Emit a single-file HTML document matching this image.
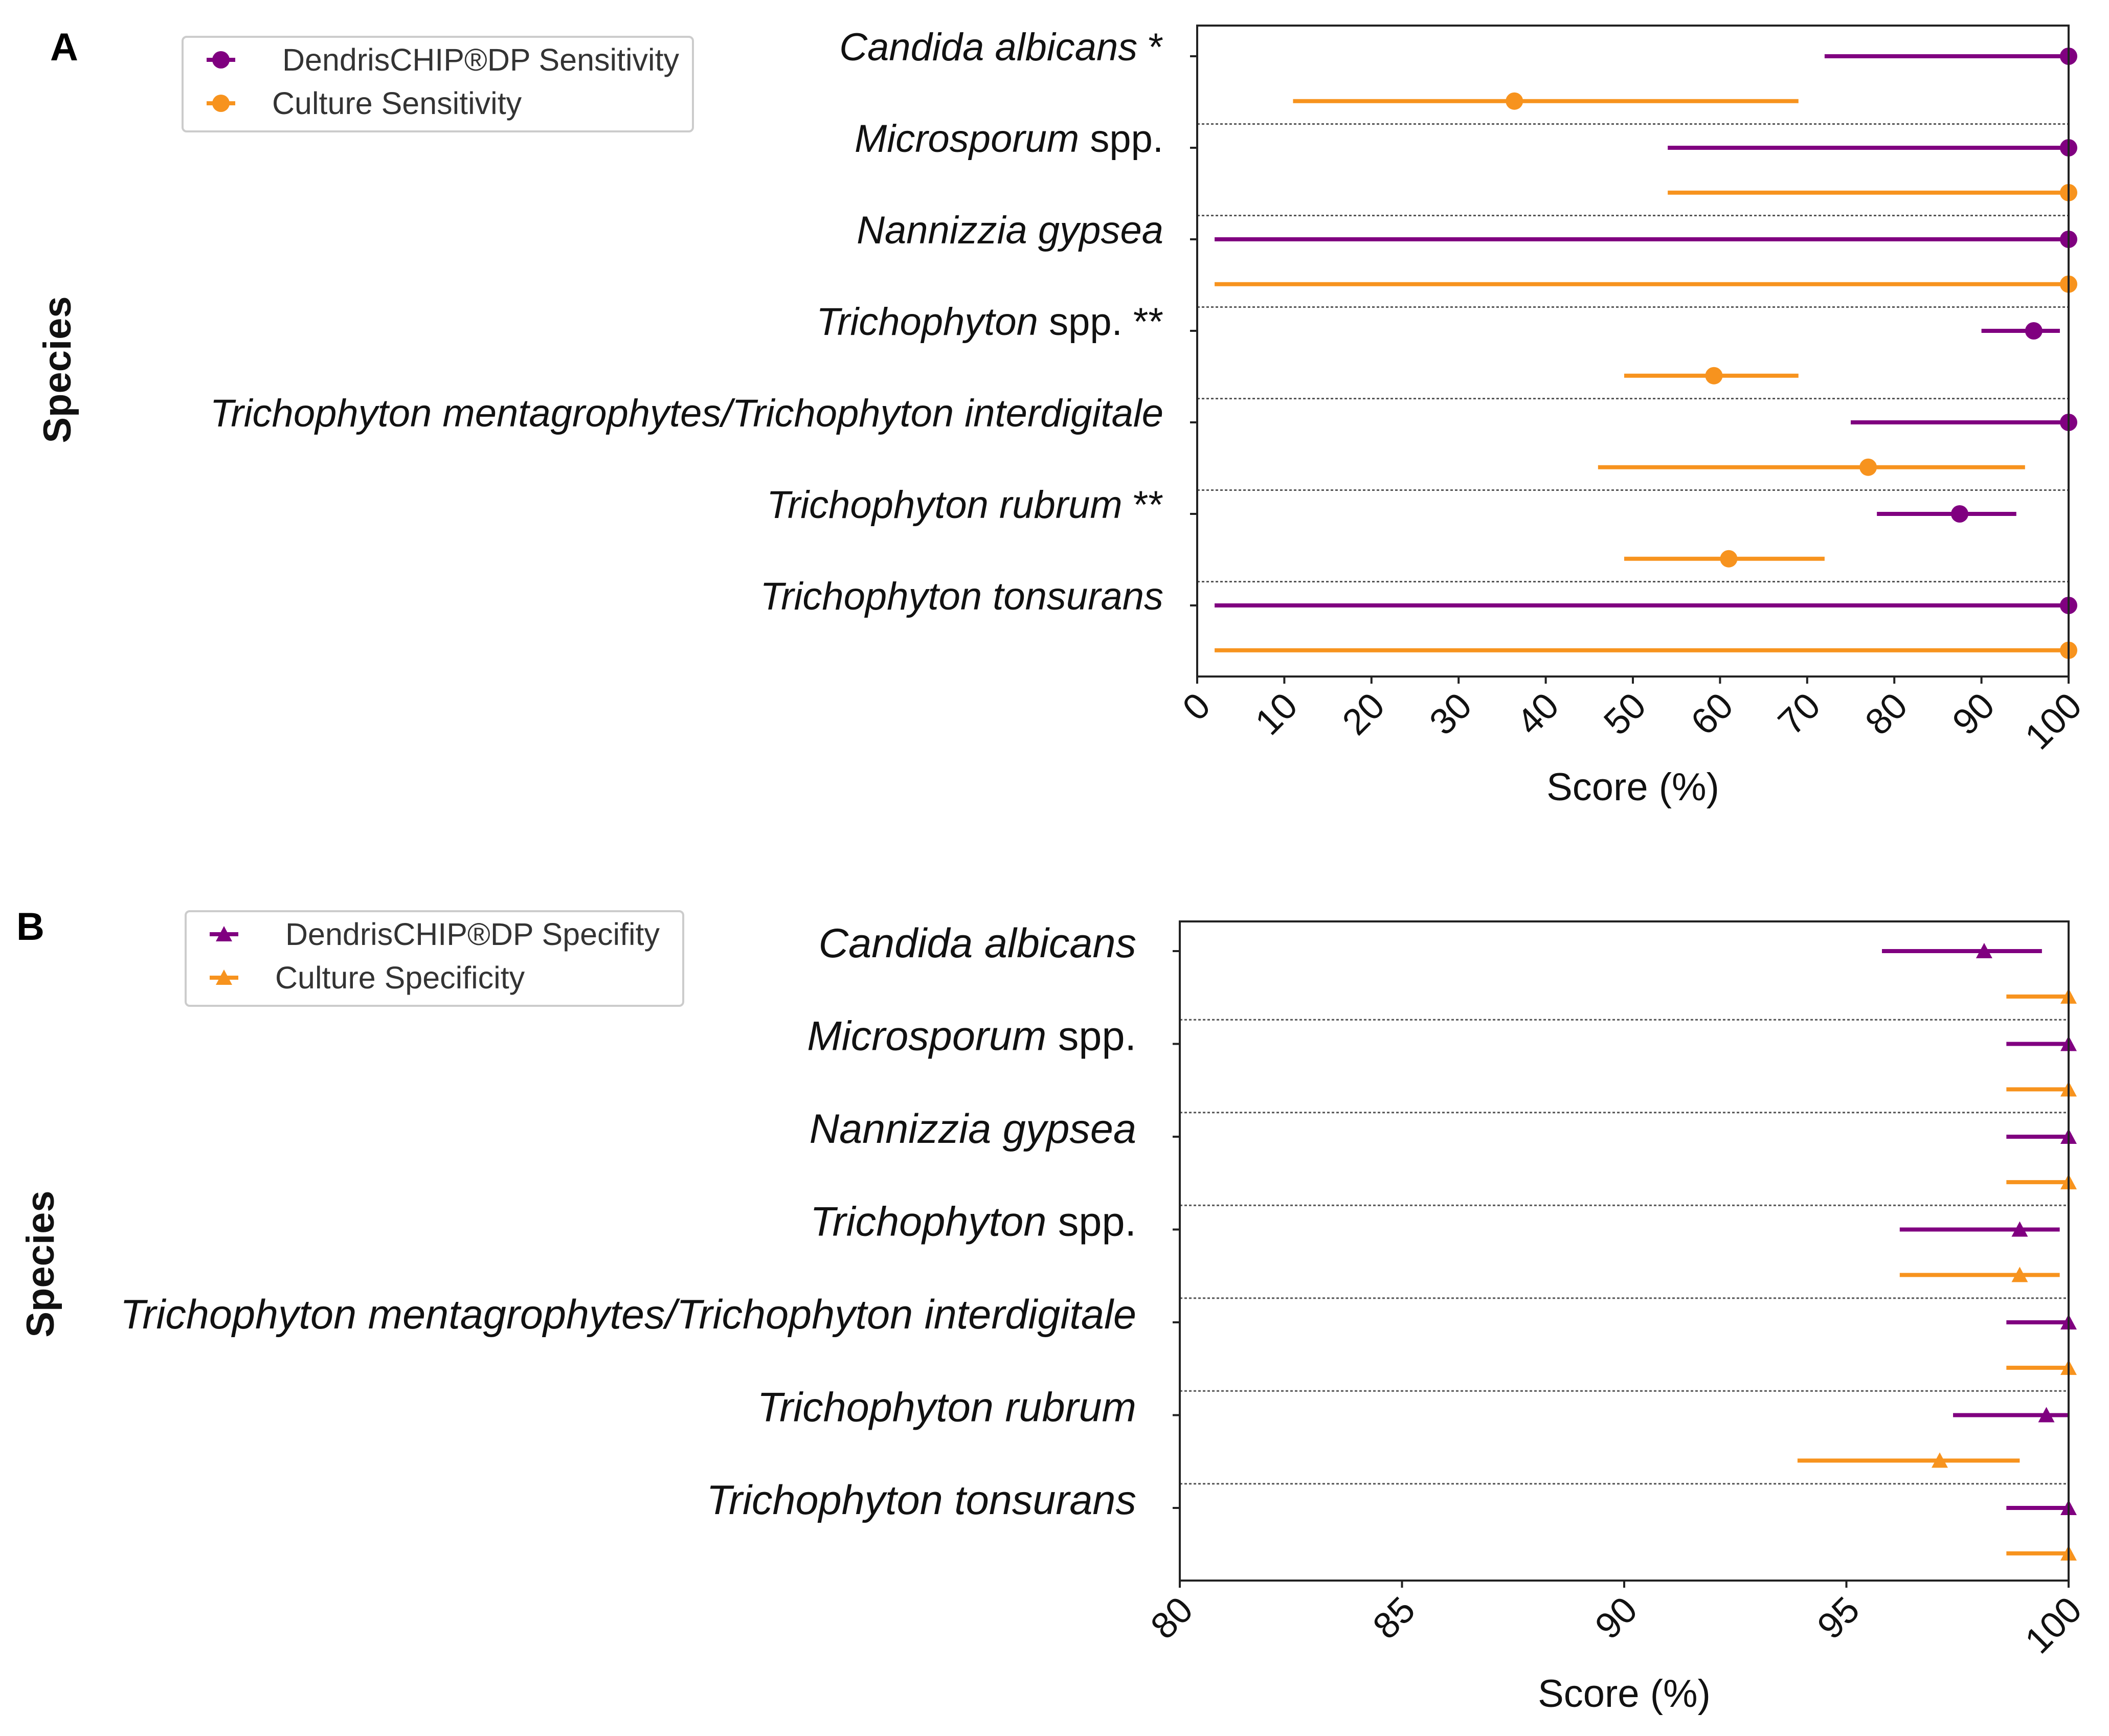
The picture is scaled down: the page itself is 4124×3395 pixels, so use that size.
<!DOCTYPE html>
<html><head><meta charset="utf-8"><style>
html,body{margin:0;padding:0;background:#fff;}
svg{display:block;font-family:"Liberation Sans",sans-serif;}
</style></head><body>
<svg id="fig" width="4124" height="3395" viewBox="0 0 4124 3395"></svg>
<script>
const labelsA = [["Candida albicans"," *"],["Microsporum"," spp."],["Nannizzia gypsea",""],["Trichophyton"," spp. **"],["Trichophyton mentagrophytes/Trichophyton interdigitale",""],["Trichophyton rubrum"," **"],["Trichophyton tonsurans",""]];
const labelsB = [["Candida albicans",""],["Microsporum"," spp."],["Nannizzia gypsea",""],["Trichophyton"," spp."],["Trichophyton mentagrophytes/Trichophyton interdigitale",""],["Trichophyton rubrum",""],["Trichophyton tonsurans",""]];
// Panel A sensitivity
const sensChip = [100,100,100,96,100,87.5,100];
const sensChipLo = [72,54,2,90,75,78,2];
const sensChipHi = [100,100,100,99,100,94,100];
const sensCult = [36.4,100,100,59.3,77,61,100];
const sensCultLo = [11,54,2,49,46,49,2];
const sensCultHi = [69,100,100,69,95,72,100];
const ticksA = [0,10,20,30,40,50,60,70,80,90,100];
// Panel B specificity
const specChip = [98.1,100,100,98.9,100,99.5,100];
const specChipLo = [95.8,98.6,98.6,96.2,98.6,97.4,98.6];
const specChipHi = [99.4,100,100,99.8,100,100,100];
const specCult = [100,100,100,98.9,100,97.1,100];
const specCultLo = [98.6,98.6,98.6,96.2,98.6,93.9,98.6];
const specCultHi = [100,100,100,99.8,100,98.9,100];
const ticksB = [80,85,90,95,100];

const NS="http://www.w3.org/2000/svg";
const svg=document.getElementById('fig');
const PURPLE="#800080", ORANGE="#f7931e";
function el(tag,attrs,parent){const e=document.createElementNS(NS,tag);for(const k in attrs)e.setAttribute(k,attrs[k]);(parent||svg).appendChild(e);return e;}

function panel(cfg){
  const g=el('g',{});
  
  
  const x=v=>cfg.L+(v-cfg.min)/(cfg.max-cfg.min)*(cfg.R-cfg.L);
  const yP=i=>cfg.y0+i*cfg.step, yO=i=>cfg.y0+i*cfg.step+cfg.step*0.49;
  for(let i=0;i<cfg.labels.length-1;i++){
    const s=el('line',{x1:cfg.L,x2:cfg.R,y1:yP(i)+cfg.step*0.74,y2:yP(i)+cfg.step*0.74,stroke:'#555','stroke-width':3,'stroke-dasharray':'5 4'},g);
    
    
  }
  const series=[[cfg.chip,cfg.chipLo,cfg.chipHi,PURPLE,yP,'chip'],[cfg.cult,cfg.cultLo,cfg.cultHi,ORANGE,yO,'culture']];
  series.forEach(([v,lo,hi,col,yf,nm])=>{
    for(let i=0;i<v.length;i++){
      const y=yf(i);
      const l=el('line',{x1:x(lo[i]),x2:x(hi[i]),y1:y,y2:y,stroke:col,'stroke-width':8},g);
      
      
      let m;
      if(cfg.tri){const cx=x(v[i]);m=el('polygon',{points:`${cx-16},${y+14} ${cx+16},${y+14} ${cx},${y-16}`,fill:col},g);}
      else m=el('circle',{cx:x(v[i]),cy:y,r:17,fill:col},g);
      
      
    }
  });
  const fr=el('rect',{x:cfg.L,y:cfg.T,width:cfg.R-cfg.L,height:cfg.B-cfg.T,fill:'none',stroke:'#222','stroke-width':4},g);
  
  
  cfg.labels.forEach((lb,i)=>{
    const tk=el('line',{x1:cfg.L-14,x2:cfg.L,y1:yP(i),y2:yP(i),stroke:'#222','stroke-width':4},g);
    
    
    const t=el('text',{x:cfg.L-cfg.lblOff,y:yP(i)+cfg.lblDy,'text-anchor':'end','font-size':cfg.lblFs,fill:'#111'},g);
    
    
    const a=el('tspan',{'font-style':'italic'},t);a.textContent=lb[0];
    if(lb[1]){const b=el('tspan',{},t);b.textContent=lb[1];}
  });
  cfg.ticks.forEach(tv=>{
    const tk=el('line',{x1:x(tv),x2:x(tv),y1:cfg.B,y2:cfg.B+14,stroke:'#222','stroke-width':4},g);
    
    
    const ax=x(tv)+30, ay=cfg.B+62;
    const t=el('text',{x:ax,y:ay,'text-anchor':'end','font-size':72,fill:'#111',transform:`rotate(-45 ${ax} ${ay})`},g);
    
    
    t.textContent=tv;
  });
  const xt=el('text',{x:(cfg.L+cfg.R)/2,y:cfg.xtY,'text-anchor':'middle','font-size':76,fill:'#111'},g);
  
  
  xt.textContent='Score (%)';
  const yt=el('text',{x:cfg.ytX,y:cfg.ytY,'text-anchor':'middle','font-size':76,'font-weight':'bold',fill:'#111',transform:`rotate(-90 ${cfg.ytX} ${cfg.ytY})`},g);
  
  
  yt.textContent='Species';
  const pl=el('text',{x:cfg.plX,y:cfg.plY,'font-size':76,'font-weight':'bold',fill:'#000'},g);
  
  
  pl.textContent=cfg.letter;
  const lg=el('g',{},g);
  
  
  el('rect',{x:cfg.lgX,y:cfg.lgY,width:cfg.lgW,height:185,rx:8,fill:'#fff',stroke:'#ccc','stroke-width':4},lg);
  cfg.legend.forEach((txt,k)=>{
    const col=k?ORANGE:PURPLE, cy=cfg.lgY+45+k*85, cx=cfg.lgX+75;
    const en=el('g',{},lg);
    
    
    el('line',{x1:cx-28,x2:cx+28,y1:cy,y2:cy,stroke:col,'stroke-width':8},en);
    if(cfg.tri) el('polygon',{points:`${cx-16},${cy+14} ${cx+16},${cy+14} ${cx},${cy-16}`,fill:col},en);
    else el('circle',{cx:cx,cy:cy,r:17,fill:col},en);
    const t=el('text',{x:cx+(k?100:120),y:cy+21,'font-size':61,fill:'#333'},en);
    t.textContent=txt;
  });
}

panel({name:'panel-a-sensitivity',L:2341,R:4045,T:50,B:1323,min:0,max:100,y0:110,step:179,
  chip:sensChip,chipLo:sensChipLo,chipHi:sensChipHi,cult:sensCult,cultLo:sensCultLo,cultHi:sensCultHi,
  ticks:ticksA,labels:labelsA,lblOff:66,lblDy:8,lblFs:76,xtY:1565,ytX:138,ytY:723,letter:'A',plX:98,plY:118,
  lgX:357,lgY:72,lgW:998,legend:['DendrisCHIP®DP Sensitivity','Culture Sensitivity'],tri:false});
panel({name:'panel-b-specificity',L:2307,R:4045,T:1802,B:3091,min:80,max:100,y0:1860,step:181.5,
  chip:specChip,chipLo:specChipLo,chipHi:specChipHi,cult:specCult,cultLo:specCultLo,cultHi:specCultHi,
  ticks:ticksB,labels:labelsB,lblOff:85,lblDy:12,lblFs:81,xtY:3338,ytX:105,ytY:2472,letter:'B',plX:32,plY:1838,
  lgX:363,lgY:1782,lgW:973,legend:['DendrisCHIP®DP Specifity','Culture Specificity'],tri:true});
</script>
</body></html>
